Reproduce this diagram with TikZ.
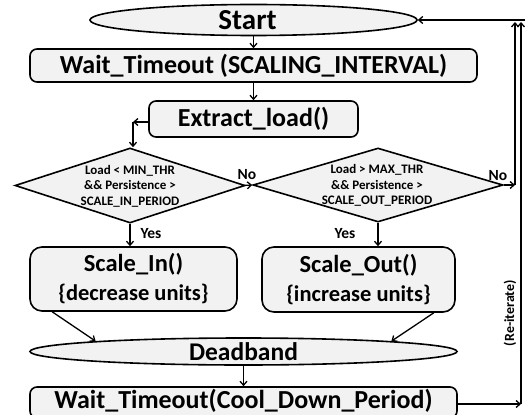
\documentclass[tikz,border=0pt]{standalone}
\usepackage{fontspec}
\setmainfont{Carlito}
\usetikzlibrary{shapes.geometric,arrows.meta}
\definecolor{boxgray}{RGB}{242,242,242}
\begin{document}
\begin{tikzpicture}[x=1pt,y=-1pt,
  every node/.style={inner sep=0pt, font=\bfseries},
  box/.style={draw, line width=1.6pt, fill=boxgray, rounded corners=7pt},
  oval/.style={ellipse, draw, line width=1.6pt, fill=boxgray},
  dia/.style={diamond, draw, line width=1.6pt, fill=boxgray},
  big/.style={font=\bfseries\fontsize{26}{28}\selectfont},
  mid/.style={font=\bfseries\fontsize{22.5}{29}\selectfont, align=center},
  dtxt/.style={font=\bfseries\fontsize{13}{15.5}\selectfont, align=center},
  lbl/.style={font=\bfseries\fontsize{15.5}{15.5}\selectfont},
  arr/.style={line width=1.3pt, -{Straight Barb[length=4pt,width=7pt,line width=1.3pt]}},
  ln/.style={line width=1.3pt}
]
\useasboundingbox (0,0) rectangle (526,414);

\node[oval, minimum width=327pt, minimum height=31pt] (start) at (253.5,20) {};
\node[big, font=\bfseries\fontsize{29}{29}\selectfont] (startt) at (247.5,20) {Start};
\node[box, minimum width=447pt, minimum height=33pt] (wt1) at (253.5,65.5) {};
\node[big] (wt1t) at (wt1) {Wait\_Timeout (SCALING\_INTERVAL)};
\node[box, minimum width=209pt, minimum height=36pt] (el) at (253.5,119) {};
\node[big] (elt) at (el) {Extract\_load()};

\node[dia, minimum width=230pt, minimum height=75pt] (d1) at (130,185.5) {};
\node[dtxt] (d1t) at (130,186) {Load < MIN\_THR\\\&\& Persistence >\\SCALE\_IN\_PERIOD};
\node[dia, minimum width=250pt, minimum height=74pt] (d2) at (378,185) {};
\node[dtxt] (d2t) at (377,185.5) {Load > MAX\_THR\\\&\& Persistence >\\SCALE\_OUT\_PERIOD};

\node[box, rounded corners=12pt, minimum width=207pt, minimum height=64pt] (si) at (133.5,279) {};
\node[mid] (sit) at (si) {{\fontsize{24.5}{24.5}\selectfont Scale\_In()}\\\{decrease units\}};
\node[box, rounded corners=12pt, minimum width=193pt, minimum height=65pt] (so) at (358.5,279.5) {};
\node[mid] (sot) at (so) {{\fontsize{24.5}{24.5}\selectfont Scale\_Out()}\\\{increase units\}};

\node[oval, minimum width=427pt, minimum height=27pt] (db) at (243.5,351.5) {};
\node[big, font=\bfseries\fontsize{25.5}{25.5}\selectfont] (dbt) at (db) {Deadband};
\node[box, minimum width=427pt, minimum height=31pt] (wt2) at (243.5,402.5) {};
\node[big] (wt2t) at (243.5,401) {Wait\_Timeout(Cool\_Down\_Period)};

% connectors
\draw[arr] (start.south) -- (wt1.north);
\draw[arr] (wt1.south) -- (el.north);
\coordinate (c1) at (133,122);
\draw[arr] (el.west |- c1) -- (c1);
\draw[arr] (c1) -- (c1 |- d1.north);
\draw[arr] ([xshift=-3pt]d1.east) -- (d2.west);
\node[lbl] (no1) at (247,175) {No};
\coordinate (c2) at (515,185);
\draw[arr] (d2.east) -- (c2);
\node[lbl] (no2) at (498,176) {No};
\coordinate (c3) at (515,22);
\draw[arr] (c2) -- (c3);
\coordinate (c4) at (525,20);
\draw[arr] (c4) -- (start.east);
\coordinate (c5) at (521,404);
\draw[arr] (wt2.east |- c5) -- (c5);
\coordinate (c6) at (521,22);
\draw[arr] (c5) -- (c6);
\node[lbl, rotate=90, font=\bfseries\fontsize{14}{14}\selectfont] (rit) at (510,313) {(Re-iterate)};

\draw[arr] (d1.south) -- (d1.south |- si.north);
\node[lbl] (yes1) at (151,234) {Yes};
\draw[arr] (d2.south) -- (d2.south |- so.north);
\node[lbl] (yes2) at (345,234) {Yes};
\draw[arr] ([xshift=23pt]si.south west) -- (db.176);
\draw[arr] ([xshift=-22pt]so.south east) -- (db.4);
\draw[arr] (db.south) -- (wt2.north);
\end{tikzpicture}
\end{document}
